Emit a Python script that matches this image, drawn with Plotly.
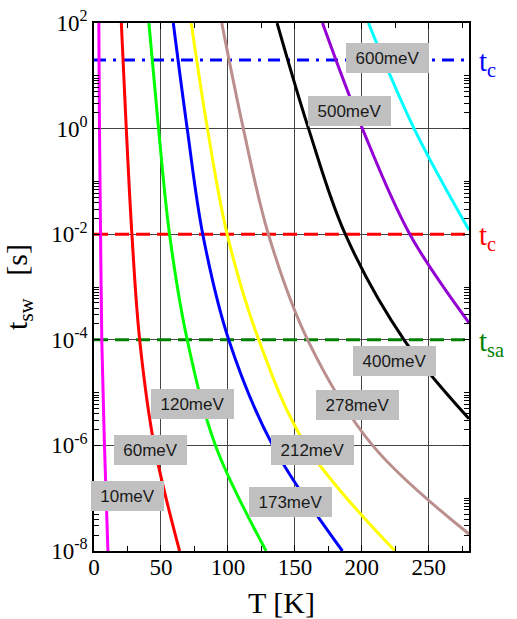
import plotly.graph_objects as go
import numpy as np

# ---- data (T in K, t_sw in s) ----
T_10meV = [3.6, 4.1, 4.9, 5.8, 7.8, 10.4]
t_10meV = [1e2, 1e0, 1e-2, 1e-4, 1e-6, 1e-8]

T_60meV = [20.4, 24.1, 28.3, 34.1, 45.0, 63.9]
t_60meV = [1e2, 1e0, 1e-2, 1e-4, 1e-6, 1e-8]

T_120meV = [41.0, 48.2, 56.4, 69.6, 90.7, 128.5]
t_120meV = [1e2, 1e0, 1e-2, 1e-4, 1e-6, 1e-8]

T_173meV = [59.2, 69.6, 81.2, 100.6, 133.4, 185.5]
t_173meV = [1e2, 1e0, 1e-2, 1e-4, 1e-6, 1e-8]

T_212meV = [72.6, 84.7, 99.4, 123.0, 158.3, 224.8]
t_212meV = [1e2, 1e0, 1e-2, 1e-4, 1e-6, 1e-8]

T_278meV = [95.4, 111.5, 130.2, 159.5, 208.0, 280.0]
t_278meV = [1e2, 1e0, 1e-2, 1e-4, 1e-6, 2.1e-8]

T_400meV = [136.7, 160.2, 187.6, 231.5, 280.0]
t_400meV = [1e2, 1e0, 1e-2, 1e-4, 3.2e-6]

T_500meV = [170.6, 200.4, 235.8, 280.0]
t_500meV = [1e2, 1e0, 1e-2, 2.1e-4]

T_600meV = [204.9, 239.0, 280.0]
t_600meV = [1e2, 1e0, 1.2e-2]

curves = [
    ("10meV", T_10meV, t_10meV, "#ff00ff"),
    ("60meV", T_60meV, t_60meV, "#ff0000"),
    ("120meV", T_120meV, t_120meV, "#00ff00"),
    ("173meV", T_173meV, t_173meV, "#0000ff"),
    ("212meV", T_212meV, t_212meV, "#ffff00"),
    ("278meV", T_278meV, t_278meV, "#bc8f8f"),
    ("400meV", T_400meV, t_400meV, "#000000"),
    ("500meV", T_500meV, t_500meV, "#9400d3"),
    ("600meV", T_600meV, t_600meV, "#00ffff"),
]

# threshold times
t_c_long = 20.0
t_c = 1e-2
t_sa = 1e-4
T_span = [0, 280]

# label positions (T, log10 t, box width px)
label_pos = {
    "600meV": (218.9, 1.337, 83),
    "500meV": (190.6, 0.333, 83),
    "400meV": (224.6, -4.392, 83),
    "278meV": (196.7, -5.229, 83),
    "212meV": (163.3, -6.085, 83),
    "173meV": (146.4, -7.081, 83),
    "120meV": (73.8, -5.223, 83),
    "60meV": (42.1, -6.087, 73),
    "10meV": (25.3, -6.966, 73),
}

x_ticks = [0, 50, 100, 150, 200, 250]
x_minor = [25, 75, 125, 175, 225, 275]
y_ticks = [1e2, 1e0, 1e-2, 1e-4, 1e-6, 1e-8]
y_ticktext = ["10<sup>2</sup>", "10<sup>0</sup>", "10<sup>-2</sup>", "10<sup>-4</sup>",
              "10<sup>-6</sup>", "10<sup>-8</sup>"]
y_minor = [k * 10.0 ** d for d in [0, -2, -4, -6, -8] for k in range(2, 11)]

fig = go.Figure()

# threshold lines
fig.add_trace(go.Scatter(x=T_span, y=[t_c_long, t_c_long], mode="lines",
                         line=dict(color="#0000ff", width=3, dash="12px,7px,3px,7px"),
                         hoverinfo="skip", showlegend=False))
fig.add_trace(go.Scatter(x=T_span, y=[t_c, t_c], mode="lines",
                         line=dict(color="#ff0000", width=3, dash="14px,7px"),
                         hoverinfo="skip", showlegend=False))
fig.add_trace(go.Scatter(x=T_span, y=[t_sa, t_sa], mode="lines",
                         line=dict(color="#008000", width=3, dash="14px,7px"),
                         hoverinfo="skip", showlegend=False))

for name, T, t, col in curves:
    fig.add_trace(go.Scatter(x=T, y=t, mode="lines", name=name,
                             line=dict(color=col, width=3, shape="spline", smoothing=1.0),
                             showlegend=False))

for name, (xv, yv, w) in label_pos.items():
    fig.add_annotation(x=xv, y=yv, xref="x", yref="y", text=name, showarrow=False,
                       bgcolor="#c0c0c0", width=w, height=30, borderpad=0, borderwidth=0,
                       font=dict(family="Liberation Sans, Arial", size=17, color="#1a1a1a"))

serif = "Liberation Serif, Times New Roman, serif"
for txt, val, col in [("t<sub>c</sub>", t_c_long, "#0000ff"),
                      ("t<sub>c</sub>", t_c, "#ff0000"),
                      ("t<sub>sa</sub>", t_sa, "#008000")]:
    fig.add_annotation(x=1.0, xref="paper", y=np.log10(val), yref="y", text=txt,
                       showarrow=False, xanchor="left", yanchor="middle", xshift=8, yshift=-3,
                       font=dict(family=serif, size=29, color=col))

fig.update_layout(
    width=517, height=619,
    margin=dict(l=94, r=48, t=23, b=68),
    paper_bgcolor="white", plot_bgcolor="white",
    font=dict(family=serif, color="black"),
    xaxis=dict(range=[0, 280], tickmode="array", tickvals=x_ticks, automargin=False,
               ticks="inside", ticklen=6, tickcolor="black", tickwidth=1,
               ticklabelstandoff=-5,
               showgrid=True, gridcolor="#444444", gridwidth=1,
               showline=True, linecolor="black", linewidth=1.5, mirror="ticks",
               zeroline=False,
               tickfont=dict(family=serif, size=23, color="black"),
               minor=dict(tickmode="array", tickvals=x_minor, ticks="inside", ticklen=5,
                          tickcolor="black", showgrid=False),
               title=dict(text="T [K]", font=dict(family=serif, size=30), standoff=13)),
    yaxis=dict(type="log", range=[-8, 2], tickmode="array", tickvals=y_ticks,
               ticktext=y_ticktext, automargin=False,
               ticks="inside", ticklen=6, tickcolor="black", tickwidth=1,
               showgrid=True, gridcolor="#444444", gridwidth=1,
               showline=True, linecolor="black", linewidth=1.5, mirror="ticks",
               zeroline=False,
               tickfont=dict(family=serif, size=23, color="black"),
               minor=dict(tickmode="array", tickvals=y_minor, ticks="inside", ticklen=5,
                          tickcolor="black", showgrid=False),
               title=dict(text="t<sub>sw</sub>\u00a0\u00a0 [s]", font=dict(family=serif, size=30),
                          standoff=16)),
)

fig.write_html("out.html", config={"displayModeBar": False},
               post_script="document.body.style.margin='0';document.body.style.overflow='hidden';")
